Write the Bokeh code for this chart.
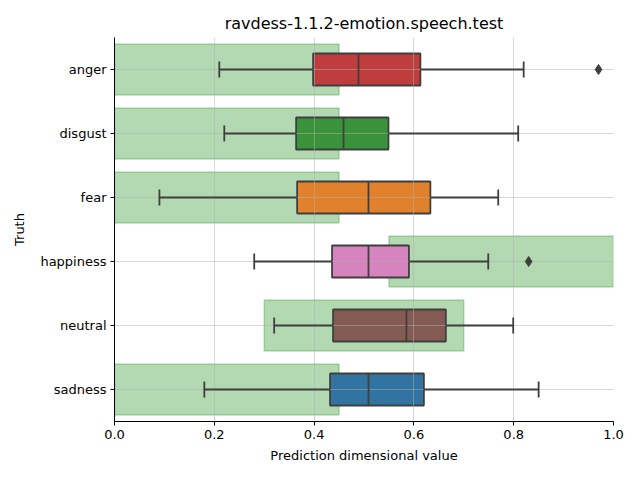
from bokeh.plotting import figure
from bokeh.models import FactorRange, Range1d, FixedTicker, NumeralTickFormatter, ColumnDataSource
from bokeh.embed import file_html
from bokeh.resources import INLINE

categories = ["anger", "disgust", "fear", "happiness", "neutral", "sadness"]
whisker_low = [0.21, 0.22, 0.09, 0.28, 0.32, 0.18]
q1 = [0.398, 0.364, 0.366, 0.436, 0.438, 0.432]
median = [0.489, 0.459, 0.509, 0.509, 0.585, 0.509]
q3 = [0.613, 0.549, 0.633, 0.590, 0.664, 0.620]
whisker_high = [0.820, 0.809, 0.769, 0.749, 0.799, 0.850]
box_colors = ["#c03d3e", "#3a923a", "#e1812c", "#d684bd", "#845b53", "#3274a1"]
outlier_cat = ["anger", "happiness"]
outlier_val = [0.970, 0.830]
# expected-range bands per emotion
band_low = [0.0, 0.0, 0.0, 0.55, 0.30, 0.0]
band_high = [0.45, 0.45, 0.45, 1.0, 0.70, 0.45]

LINE = "#3f3f3f"
FONT = "DejaVu Sans"

p = figure(y_range=FactorRange(factors=list(reversed(categories))),
           x_range=Range1d(0, 1),
           frame_width=499, frame_height=384,
           min_border_left=114, min_border_right=18, min_border_top=37, min_border_bottom=50,
           output_backend="svg", toolbar_location=None,
           title="ravdess-1.1.2-emotion.speech.test")

src = ColumnDataSource(dict(cat=categories, lo=whisker_low, q1=q1, med=median, q3=q3, hi=whisker_high,
                            color=box_colors, blo=band_low, bhi=band_high,
                            cap_lo_a=[(c, -0.125) for c in categories],
                            cap_lo_b=[(c, 0.125) for c in categories],
                            med_a=[(c, -0.25) for c in categories],
                            med_b=[(c, 0.25) for c in categories]))

# bands
p.hbar(y="cat", left="blo", right="bhi", height=0.8, source=src,
       fill_color="green", fill_alpha=0.3, line_color="green", line_alpha=0.25, line_width=1.5,
       level="image")
# boxes
p.hbar(y="cat", left="q1", right="q3", height=0.5, source=src,
       fill_color="color", line_color=LINE, line_width=1.8, level="image")

# whiskers
p.segment(x0="lo", y0="cat", x1="q1", y1="cat", source=src, line_color=LINE, line_width=1.8)
p.segment(x0="q3", y0="cat", x1="hi", y1="cat", source=src, line_color=LINE, line_width=1.8)
# caps
p.segment(x0="lo", y0="cap_lo_a", x1="lo", y1="cap_lo_b", source=src, line_color=LINE, line_width=1.8)
p.segment(x0="hi", y0="cap_lo_a", x1="hi", y1="cap_lo_b", source=src, line_color=LINE, line_width=1.8)
# medians
p.segment(x0="med", y0="med_a", x1="med", y1="med_b", source=src, line_color=LINE, line_width=1.8)
# outliers
p.scatter(x=outlier_val, y=outlier_cat, marker="diamond", size=10, fill_color=LINE, line_color=LINE)

# grid
for g in (p.xgrid, p.ygrid):
    g.grid_line_color = "#b0b0b0"
    g.grid_line_alpha = 0.5
    g.grid_line_width = 1
    g.level = "underlay"
p.xgrid.ticker = FixedTicker(ticks=[0, 0.2, 0.4, 0.6, 0.8, 1.0])

p.outline_line_color = None
p.background_fill_color = "white"

p.xaxis.ticker = FixedTicker(ticks=[0, 0.2, 0.4, 0.6, 0.8, 1.0])
p.xaxis.formatter = NumeralTickFormatter(format="0.0")
p.xaxis.axis_label = "Prediction dimensional value"
p.yaxis.axis_label = "Truth"
for ax in (p.xaxis[0], p.yaxis[0]):
    ax.axis_line_color = "black"
    ax.axis_line_width = 1
    ax.major_tick_line_color = "black"
    ax.major_tick_out = 4
    ax.major_tick_in = 0
    ax.minor_tick_line_color = None
    ax.major_label_text_font = FONT
    ax.major_label_text_font_size = "13px"
    ax.major_label_text_color = "black"
    ax.axis_label_text_font = FONT
    ax.axis_label_text_font_size = "13px"
    ax.axis_label_text_font_style = "normal"
    ax.axis_label_text_color = "black"
    ax.major_label_standoff = 4
    ax.axis_label_standoff = 6
p.yaxis[0].axis_label_standoff = 10

p.title.text_font = FONT
p.title.text_font_size = "16px"
p.title.text_font_style = "normal"
p.title.text_color = "black"
p.title.align = "center"

open("out.html", "w").write(file_html(p, INLINE))
